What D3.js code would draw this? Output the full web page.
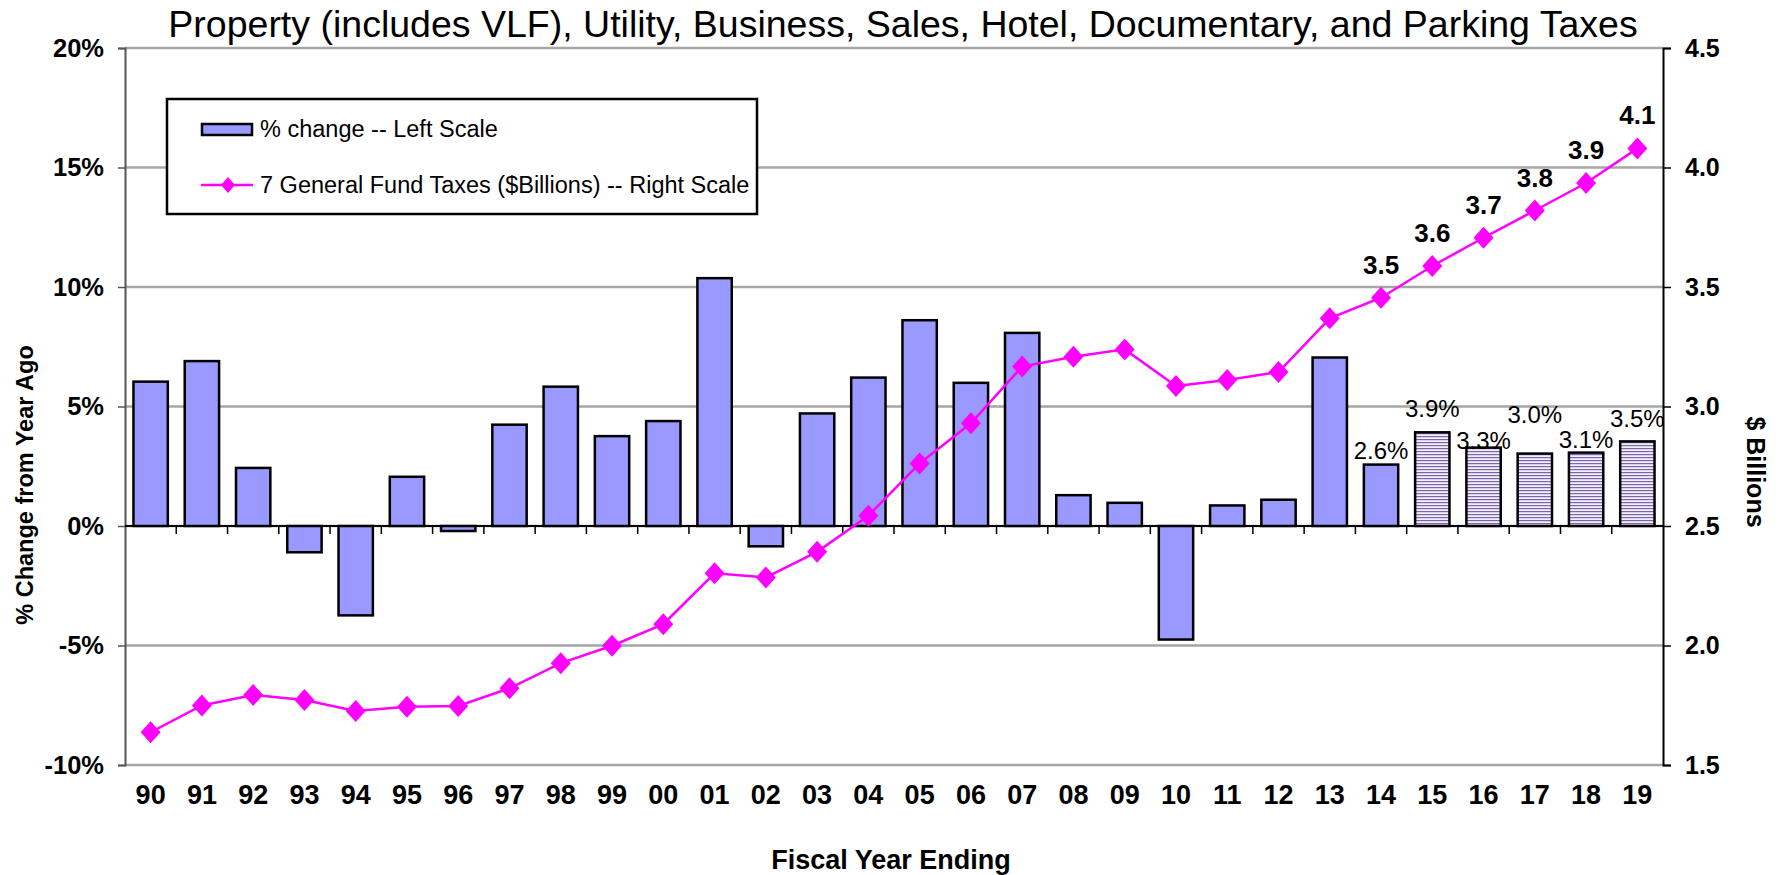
<!DOCTYPE html>
<html>
<head>
<meta charset="utf-8">
<script src="https://cdn.jsdelivr.net/npm/d3@7"></script>
<style>
  body { margin: 0; background: #fff; }
  text { font-family: "Liberation Sans", Arial, sans-serif; fill: #000; }
</style>
</head>
<body>
<svg id="chart" width="1784" height="875"></svg>
<script>
// fiscal years and values
var years = ["90","91","92","93","94","95","96","97","98","99","00","01","02","03","04",
             "05","06","07","08","09","10","11","12","13","14","15","16","17","18","19"];
var pctChange = [6.04, 6.9, 2.43, -1.1, -3.74, 2.06, -0.21, 4.24, 5.83, 3.76, 4.39, 10.37, -0.85, 4.71, 6.21,
                 8.61, 5.99, 8.08, 1.29, 0.97, -4.75, 0.86, 1.1, 7.05, 2.57, 3.92, 3.28, 3.03, 3.07, 3.54];
var taxes = [1.637, 1.749, 1.793, 1.772, 1.726, 1.744, 1.747, 1.821, 1.926, 1.999, 2.089, 2.302, 2.285, 2.392, 2.543,
             2.762, 2.93, 3.167, 3.208, 3.239, 3.086, 3.111, 3.144, 3.369, 3.455, 3.588, 3.706, 3.82, 3.935, 4.08];
var forecastYears = ["15","16","17","18","19"];
var labeledYears = ["14","15","16","17","18","19"];
var leftTicks = [-10, -5, 0, 5, 10, 15, 20];
var rightTicks = [1.5, 2.0, 2.5, 3.0, 3.5, 4.0, 4.5];
// vertical nudges of the bar labels so they don't collide (as in the original)
var barLabelShift = {"14": -6, "15": -15, "16": 1, "17": -31, "18": -5, "19": -14};

var svg = d3.select("#chart");
var plotLeft = 125, plotRight = 1663, plotTop = 48, plotBottom = 765;

var x = d3.scaleBand().domain(years).range([plotLeft, plotRight]).paddingInner(0.33).paddingOuter(0.165);
var yL = d3.scaleLinear().domain([-10, 20]).range([plotBottom, plotTop]);
var yR = d3.scaleLinear().domain([1.5, 4.5]).range([plotBottom, plotTop]);

var rows = years.map(function(y, i) { return {year: y, pct: pctChange[i], tax: taxes[i]}; });

// hatch pattern for forecast bars
var defs = svg.append("defs");
var pat = defs.append("pattern").attr("id", "hatch").attr("patternUnits", "userSpaceOnUse")
  .attr("width", 6).attr("height", 3);
pat.append("rect").attr("width", 6).attr("height", 3).attr("fill", "#f1eff9");
pat.append("rect").attr("y", 1).attr("width", 6).attr("height", 1.2).attr("fill", "#7d64ad");

// title
svg.append("text").attr("x", 903).attr("y", 37).attr("text-anchor", "middle")
  .style("font-size", "37.5px")
  .text("Property (includes VLF), Utility, Business, Sales, Hotel, Documentary, and Parking Taxes");

// gridlines
svg.append("g").selectAll("line").data(leftTicks).enter().append("line")
  .attr("x1", plotLeft).attr("x2", plotRight)
  .attr("y1", function(d) { return yL(d); }).attr("y2", function(d) { return yL(d); })
  .attr("stroke", "#a6a6a6").attr("stroke-width", 2.5);

// left axis
var gL = svg.append("g").attr("transform", "translate(" + plotLeft + ",0)")
  .call(d3.axisLeft(yL).tickValues(leftTicks).tickSize(7).tickPadding(14)
    .tickFormat(function(d) { return d + "%"; }));
gL.select(".domain").attr("stroke", "#555").attr("stroke-width", 2);
gL.selectAll(".tick line").attr("stroke", "#555").attr("stroke-width", 1.5);
gL.selectAll("text").style("font-size", "25.5px").style("font-weight", "bold")
  .attr("font-family", null);

// right axis
var gR = svg.append("g").attr("transform", "translate(" + plotRight + ",0)")
  .call(d3.axisRight(yR).tickValues(rightTicks).tickSize(8).tickPadding(14)
    .tickFormat(d3.format(".1f")));
gR.select(".domain").attr("stroke", "#000").attr("stroke-width", 2);
gR.selectAll(".tick line").attr("stroke", "#000").attr("stroke-width", 1.5);
gR.selectAll("text").style("font-size", "25px").style("font-weight", "bold")
  .attr("font-family", null);

// bars
svg.append("g").selectAll("rect").data(rows).enter().append("rect")
  .attr("x", function(d) { return x(d.year); })
  .attr("width", x.bandwidth())
  .attr("y", function(d) { return yL(Math.max(0, d.pct)); })
  .attr("height", function(d) { return Math.abs(yL(d.pct) - yL(0)); })
  .attr("fill", function(d) { return forecastYears.indexOf(d.year) >= 0 ? "url(#hatch)" : "#9999ff"; })
  .attr("stroke", "#000").attr("stroke-width", 2.5);

// category axis along 0%
var step = x.step();
svg.append("line").attr("x1", plotLeft).attr("x2", plotRight).attr("y1", yL(0)).attr("y2", yL(0))
  .attr("stroke", "#000").attr("stroke-width", 2);
svg.append("g").selectAll("line").data(years.slice(1)).enter().append("line")
  .attr("x1", function(d) { return x(d) - step * 0.165; })
  .attr("x2", function(d) { return x(d) - step * 0.165; })
  .attr("y1", yL(0)).attr("y2", yL(0) + 8)
  .attr("stroke", "#000").attr("stroke-width", 1.5);

// year labels below the plot
var gX = svg.append("g").attr("transform", "translate(0," + plotBottom + ")")
  .call(d3.axisBottom(x).tickSize(0).tickPadding(20));
gX.select(".domain").remove();
gX.selectAll("text").style("font-size", "27px").style("font-weight", "bold")
  .attr("font-family", null);

// tax line
var line = d3.line().x(function(d) { return x(d.year) + x.bandwidth() / 2; })
  .y(function(d) { return yR(d.tax); });
svg.append("path").datum(rows).attr("d", line)
  .attr("fill", "none").attr("stroke", "#ff00ff").attr("stroke-width", 2.5);
svg.append("g").selectAll("path").data(rows).enter().append("path")
  .attr("transform", function(d) { return "translate(" + (x(d.year) + x.bandwidth() / 2) + "," + yR(d.tax) + ")"; })
  .attr("d", "M0,-11L10,0L0,11L-10,0Z")
  .attr("fill", "#ff00ff");

// labels on last years
var lab = rows.filter(function(d) { return labeledYears.indexOf(d.year) >= 0; });
svg.append("g").selectAll("text").data(lab).enter().append("text")
  .attr("x", function(d) { return x(d.year) + x.bandwidth() / 2; })
  .attr("y", function(d) { return yR(d.tax) - 24; })
  .attr("text-anchor", "middle")
  .style("font-size", "26px").style("font-weight", "bold")
  .text(function(d) { return d3.format(".1f")(d.tax); });
svg.append("g").selectAll("text").data(lab).enter().append("text")
  .attr("x", function(d) { return x(d.year) + x.bandwidth() / 2; })
  .attr("y", function(d) { return yL(d.pct) + barLabelShift[d.year]; })
  .attr("text-anchor", "middle")
  .style("font-size", "24px")
  .text(function(d) { return d3.format(".1f")(d.pct) + "%"; });

// axis titles
svg.append("text").attr("transform", "translate(33,485) rotate(-90)")
  .attr("text-anchor", "middle").style("font-size", "23.5px").style("font-weight", "bold")
  .text("% Change from Year Ago");
svg.append("text").attr("transform", "translate(1747,472) rotate(90)")
  .attr("text-anchor", "middle").style("font-size", "25px").style("font-weight", "bold")
  .text("$ Billions");
svg.append("text").attr("x", 891).attr("y", 869).attr("text-anchor", "middle")
  .style("font-size", "27px").style("font-weight", "bold")
  .text("Fiscal Year Ending");

// legend
var lg = svg.append("g");
lg.append("rect").attr("x", 167).attr("y", 99).attr("width", 590).attr("height", 115)
  .attr("fill", "#fff").attr("stroke", "#000").attr("stroke-width", 2.5);
lg.append("rect").attr("x", 202).attr("y", 124).attr("width", 50).attr("height", 11)
  .attr("fill", "#9999ff").attr("stroke", "#000").attr("stroke-width", 2.5);
lg.append("text").attr("x", 260).attr("y", 137).style("font-size", "23.5px")
  .text("% change -- Left Scale");
lg.append("line").attr("x1", 201).attr("x2", 253).attr("y1", 185).attr("y2", 185)
  .attr("stroke", "#ff00ff").attr("stroke-width", 2.5);
lg.append("path").attr("transform", "translate(228,185)").attr("d", "M0,-8L7,0L0,8L-7,0Z")
  .attr("fill", "#ff00ff");
lg.append("text").attr("x", 260).attr("y", 193).style("font-size", "23.5px")
  .text("7 General Fund Taxes ($Billions) -- Right Scale");
</script>
</body>
</html>
